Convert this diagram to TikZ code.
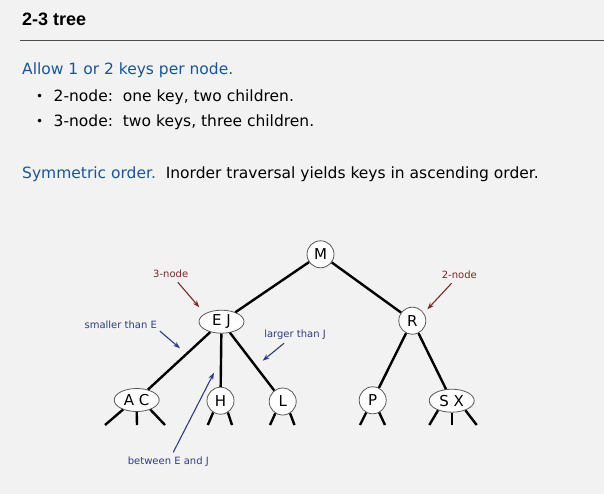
\documentclass[tikz,border=0pt]{standalone}
\usepackage{fontspec}
\setmainfont{DejaVu Sans}
\newfontfamily\headfont{Liberation Sans}
\usetikzlibrary{arrows.meta,shapes.geometric,positioning}
\definecolor{pagegray}{HTML}{F2F2F2}
\definecolor{headblue}{RGB}{25,85,155}
\definecolor{notenavy}{RGB}{45,60,135}
\definecolor{notered}{RGB}{125,40,40}
\tikzset{
  key/.style={circle,draw=gray!70!black,fill=white,line width=0.8pt,minimum size=27pt,inner sep=0pt,font=\fontsize{15}{15}\selectfont},
  twokey/.style={ellipse,draw=gray!70!black,fill=white,line width=0.8pt,minimum width=45pt,minimum height=23pt,inner sep=0pt,font=\fontsize{15}{15}\selectfont},
  link/.style={line width=2.4pt},
  body/.style={anchor=base west,inner sep=0pt,font=\fontsize{15.5}{18}\selectfont},
  note/.style={inner sep=2pt,font=\fontsize{10}{12}\selectfont},
  pointer/.style={-{Stealth[length=7pt,width=5pt]},line width=1.1pt,shorten <=3pt}
}

\begin{document}
\begin{tikzpicture}[x=1pt,y=-1pt]
  \fill[pagegray] (0,0) rectangle (604,494);
  \useasboundingbox (0,0) rectangle (604,494);
  % heading
  \node[anchor=base west,inner sep=0pt,font=\headfont\bfseries\fontsize{18}{18}\selectfont] (title) at (22,26) {2-3 tree};
  \draw[gray!60!black,line width=0.9pt] (20,40) -- (604,40);
  \node[body,headblue] (allow) at (22,75) {Allow 1 or 2 keys per node.};
  \node[body,font=\fontsize{12}{14}\selectfont] (dot1) at (36,100.5) {\textbullet};
  \node[body] (two) at (53.5,101.5) {2-node:\ \ one key, two children.};
  \node[body,font=\fontsize{12}{14}\selectfont] (dot2) at (36,125.7) {\textbullet};
  \node[body] (three) at (53.5,126.7) {3-node:\ \ two keys, three children.};
  \node[body] (sym) at (22,179) {\textcolor{headblue}{Symmetric order.}\ \ Inorder traversal yields keys in ascending order.};

  % tree
  \node[key] (M) at (320.5,254.3) {M};
  \node[twokey] (EJ) at (221.5,321.7) {E J};
  \node[key] (R) at (412.3,320.7) {R};
  \node[twokey] (AC) at (136.7,400) {A C};
  \node[key] (H) at (220.5,400.7) {H};
  \node[key] (L) at (282.7,401.5) {L};
  \node[key] (P) at (372.7,400.3) {P};
  \node[twokey] (SX) at (451.7,400.7) {S X};
  \draw[link] (M) -- (EJ);
  \draw[link] (M) -- (R);
  \draw[link] (EJ) -- (AC);
  \draw[link] (EJ) -- (H);
  \draw[link] (EJ) -- (L);
  \draw[link] (R) -- (P);
  \draw[link] (R) -- (SX);

  % null links
  \coordinate (ac1) at (105,425);
  \coordinate (ac2) at (137,425);
  \coordinate (ac3) at (165,425);
  \coordinate (h1) at (207.8,425);
  \coordinate (h2) at (232,425);
  \coordinate (l1) at (270,425);
  \coordinate (l2) at (294.5,425);
  \coordinate (p1) at (360,425);
  \coordinate (p2) at (385,425);
  \coordinate (sx1) at (429.3,425);
  \coordinate (sx2) at (451.7,425);
  \coordinate (sx3) at (476.7,425);
  \draw[link] (AC.215) -- (ac1);
  \draw[link] (AC.south) -- (ac2);
  \draw[link] (AC.325) -- (ac3);
  \draw[link] (H.238) -- (h1);
  \draw[link] (H.302) -- (h2);
  \draw[link] (L.238) -- (l1);
  \draw[link] (L.302) -- (l2);
  \draw[link] (P.242) -- (p1);
  \draw[link] (P.298) -- (p2);
  \draw[link] (SX.215) -- (sx1);
  \draw[link] (SX.south) -- (sx2);
  \draw[link] (SX.325) -- (sx3);

  % notes
  \node[note,notered] (three node) at (170.7,274) {3-node};
  \node[note,notered] (two node) at (459.3,275) {2-node};
  \node[note,notenavy] (smaller) at (120.7,324.3) {smaller than E};
  \node[note,notenavy] (larger) at (295,334.3) {larger than J};
  \node[note,notenavy] (between) at (168.3,462) {between E and J};
  \coordinate (to three) at (199.3,307.3);
  \coordinate (to two) at (427.3,309.3);
  \coordinate (to smaller) at (180,348.3);
  \coordinate (to larger) at (262.7,360.7);
  \coordinate (to between) at (214,372.7);
  \draw[pointer,notered] (three node) -- (to three);
  \draw[pointer,notered] (two node) -- (to two);
  \draw[pointer,notenavy,shorten <=1pt] (smaller.south east) -- (to smaller);
  \draw[pointer,notenavy] (larger) -- (to larger);
  \draw[pointer,notenavy] (between) -- (to between);
\end{tikzpicture}
\end{document}
